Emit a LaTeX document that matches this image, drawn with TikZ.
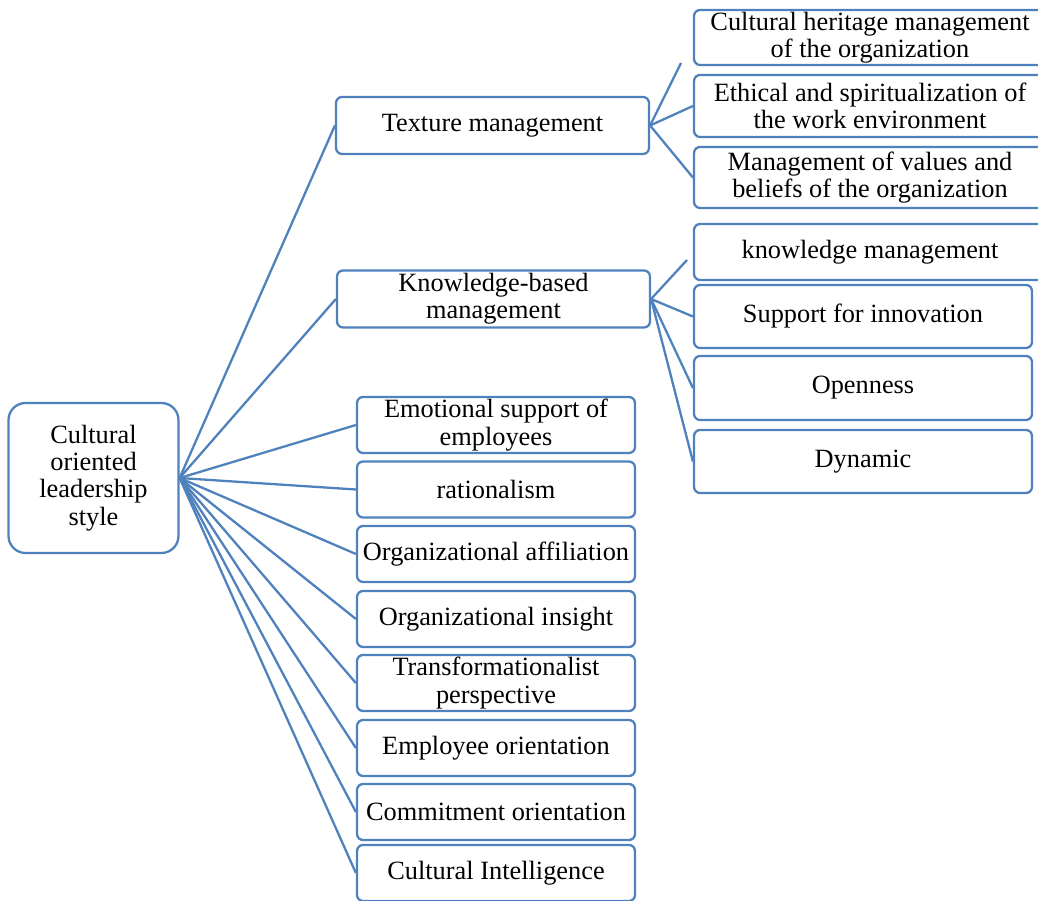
\documentclass[tikz,border=0pt]{standalone}
\usepackage{fontspec}
\setmainfont{Liberation Serif}
\usepackage{tikz}
\definecolor{smartblue}{RGB}{79,129,189}
\tikzset{
	box/.style={draw=smartblue, line width=1.3pt, rounded corners=0.12cm, fill=white, align=center, inner sep=0pt,
		font=\fontsize{15}{15.5}\selectfont},
	rootbox/.style={box, rounded corners=0.34cm, minimum width=3.4cm, minimum height=3cm},
	midbox/.style={box, minimum width=6.26cm, minimum height=1.14cm},
	leftbox/.style={box, minimum width=5.56cm, minimum height=1.12cm},
	rightbox/.style={box, minimum width=6.76cm},
	link/.style={draw=smartblue, line width=1.3pt}
}

\begin{document}
\begin{tikzpicture}[x=0.02cm, y=-0.02cm]
		%%%%% START %%%%%
		
		\clip (0, 0) rectangle (1038, 901);
		
		\node[rootbox] (root) at (93.5, 478) {Cultural\\oriented\\leadership\\style};
		
		\node[midbox] (texture) at (492.5, 125.5) {Texture management};
		\node[midbox] (knowledge) at (493.5, 299) {Knowledge-based\\management};
		
		\node[leftbox] (emotional) at (496, 425) {Emotional support of\\employees};
		\node[leftbox] (rational) at (496, 489.5) {rationalism};
		\node[leftbox] (affiliation) at (496, 554) {Organizational affiliation};
		\node[leftbox] (insight) at (496, 619) {Organizational insight};
		\node[leftbox] (transform) at (496, 683) {Transformationalist\\perspective};
		\node[leftbox] (employee) at (496, 748) {Employee orientation};
		\node[leftbox] (commit) at (496, 812) {Commitment orientation};
		\node[leftbox] (intel) at (496, 873) {Cultural Intelligence};
		
		\node[rightbox, minimum width=7.04cm, minimum height=1.1cm] (heritage) at (870, 37.5) {Cultural heritage management\\of the organization};
		\node[rightbox, minimum width=7.04cm, minimum height=1.24cm] (ethical) at (870, 106) {Ethical and spiritualization of\\the work environment};
		\node[rightbox, minimum width=7.04cm, minimum height=1.22cm] (values) at (870, 177.5) {Management of values and\\beliefs of the organization};
		\node[rightbox, minimum width=7.04cm, minimum height=1.12cm] (kmanage) at (870, 252) {knowledge management};
		\node[rightbox, minimum height=1.26cm] (innovation) at (863, 316.5) {Support for innovation};
		\node[rightbox, minimum height=1.28cm] (openness) at (863, 388) {Openness};
		\node[rightbox, minimum height=1.26cm] (dynamic) at (863, 461.5) {Dynamic};
		
		\coordinate (heritagend) at (681, 63);
		\coordinate (kmanagend) at (687, 260);
		
		% root to second level
		\foreach \child in {texture, knowledge, emotional, rational, affiliation, insight, transform, employee, commit, intel}
			\draw[link] (root.east) -- (\child.west);
		
		% texture management
		\draw[link] (texture.east) -- (heritagend);
		\draw[link] (texture.east) -- (ethical.west);
		\draw[link] (texture.east) -- (values.west);
		
		% knowledge-based management
		\draw[link] (knowledge.east) -- (kmanagend);
		\foreach \child in {innovation, openness, dynamic}
			\draw[link] (knowledge.east) -- (\child.west);
		
		%%%%% END %%%%%
	\end{tikzpicture}
\end{document}
